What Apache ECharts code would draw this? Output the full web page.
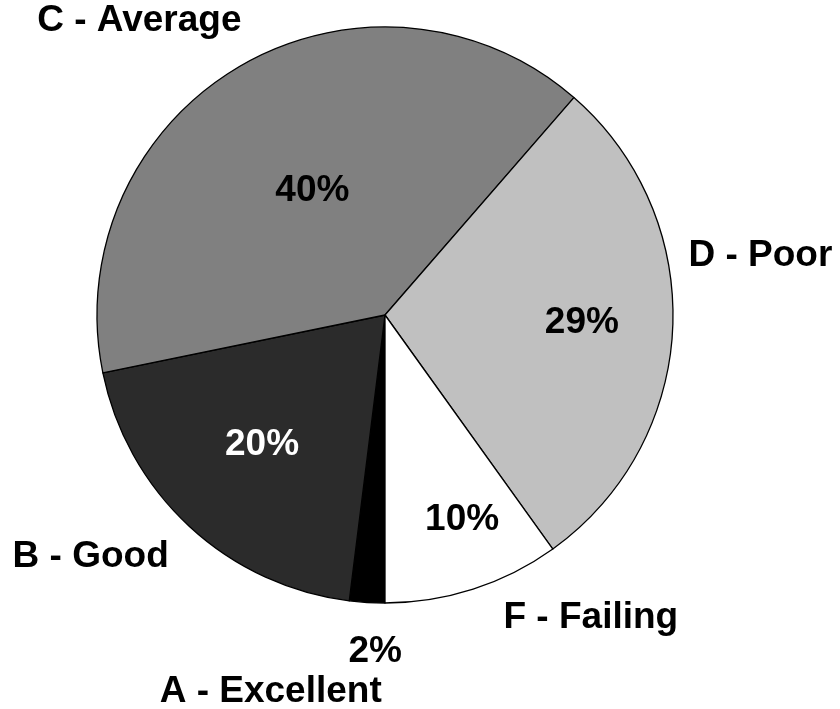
<!DOCTYPE html>
<html>
<head>
<meta charset="utf-8">
<script src="https://cdn.jsdelivr.net/npm/echarts@6/dist/echarts.min.js"></script>
<style>
  html, body { margin: 0; padding: 0; background: #fff; }
  #chart { width: 840px; height: 709px; }
</style>
</head>
<body>
<div id="chart"></div>
<script>
// ---- data ----
const categories = ['A - Excellent', 'B - Good', 'C - Average', 'D - Poor', 'F - Failing'];
const values = [2, 20, 40, 29, 10];
const percentLabels = ['2%', '20%', '40%', '29%', '10%'];

// ---- styles ----
const sliceColors = ['#000000', '#2b2b2b', '#808080', '#c0c0c0', '#ffffff'];
const pctColors = ['#000', '#fff', '#000', '#000', '#000'];
const FONT = '"Liberation Sans", Arial, Helvetica, sans-serif';
const FONT_SIZE = 37;
const CX = 385, CY = 315, R = 288;
// label placement: [radius, angle shift from slice mid-angle (deg)]
const pctPlace = [[337, -1.9], [179, 0.6], [144, 0], [197, -0.4], [219, -2.8]];
const catPlace = [[394, 13.3], [381, 7.8], [383, -9.6], [380, -11.6], [366, -16.4]];

// mid-angles (clockwise from 12 o'clock), first slice starts at 6 o'clock
const total = values.reduce((a, b) => a + b, 0);
const midAngles = [];
let acc = 180;
values.forEach(v => { const span = v / total * 360; midAngles.push(acc + span / 2); acc += span; });
function polar(rad, deg) {
  const a = deg * Math.PI / 180;
  return [CX + rad * Math.sin(a), CY - rad * Math.cos(a)];
}
function layoutWith(place) {
  return function (params) {
    const i = params.dataIndex;
    const p = polar(place[i][0], midAngles[i] + place[i][1]);
    return { x: p[0], y: p[1], align: 'center', verticalAlign: 'middle' };
  };
}

const chart = echarts.init(document.getElementById('chart'), null, { renderer: 'canvas' });
chart.setOption({
  animation: false,
  backgroundColor: '#fff',
  series: [
    {
      type: 'pie',
      center: [CX, CY],
      radius: R,
      startAngle: -90,
      clockwise: true,
      silent: true,
      data: categories.map((c, i) => ({
        name: c,
        value: values[i],
        itemStyle: { color: sliceColors[i] },
        label: { color: pctColors[i] }
      })),
      itemStyle: { borderColor: '#000', borderWidth: 1.3 },
      label: {
        show: true,
        position: 'inside',
        formatter: p => percentLabels[p.dataIndex],
        fontFamily: FONT, fontWeight: 'bold', fontSize: FONT_SIZE
      },
      labelLine: { show: false },
      labelLayout: layoutWith(pctPlace),
      emphasis: { disabled: true }
    },
    {
      type: 'pie',
      center: [CX, CY],
      radius: R,
      startAngle: -90,
      clockwise: true,
      silent: true,
      z: 3,
      data: categories.map((c, i) => ({ name: c, value: values[i] })),
      itemStyle: { color: 'rgba(0,0,0,0)', borderWidth: 0 },
      label: {
        show: true,
        position: 'inside',
        formatter: '{b}',
        color: '#000',
        fontFamily: FONT, fontWeight: 'bold', fontSize: FONT_SIZE
      },
      labelLine: { show: false },
      labelLayout: layoutWith(catPlace),
      emphasis: { disabled: true }
    }
  ]
});
</script>
</body>
</html>
